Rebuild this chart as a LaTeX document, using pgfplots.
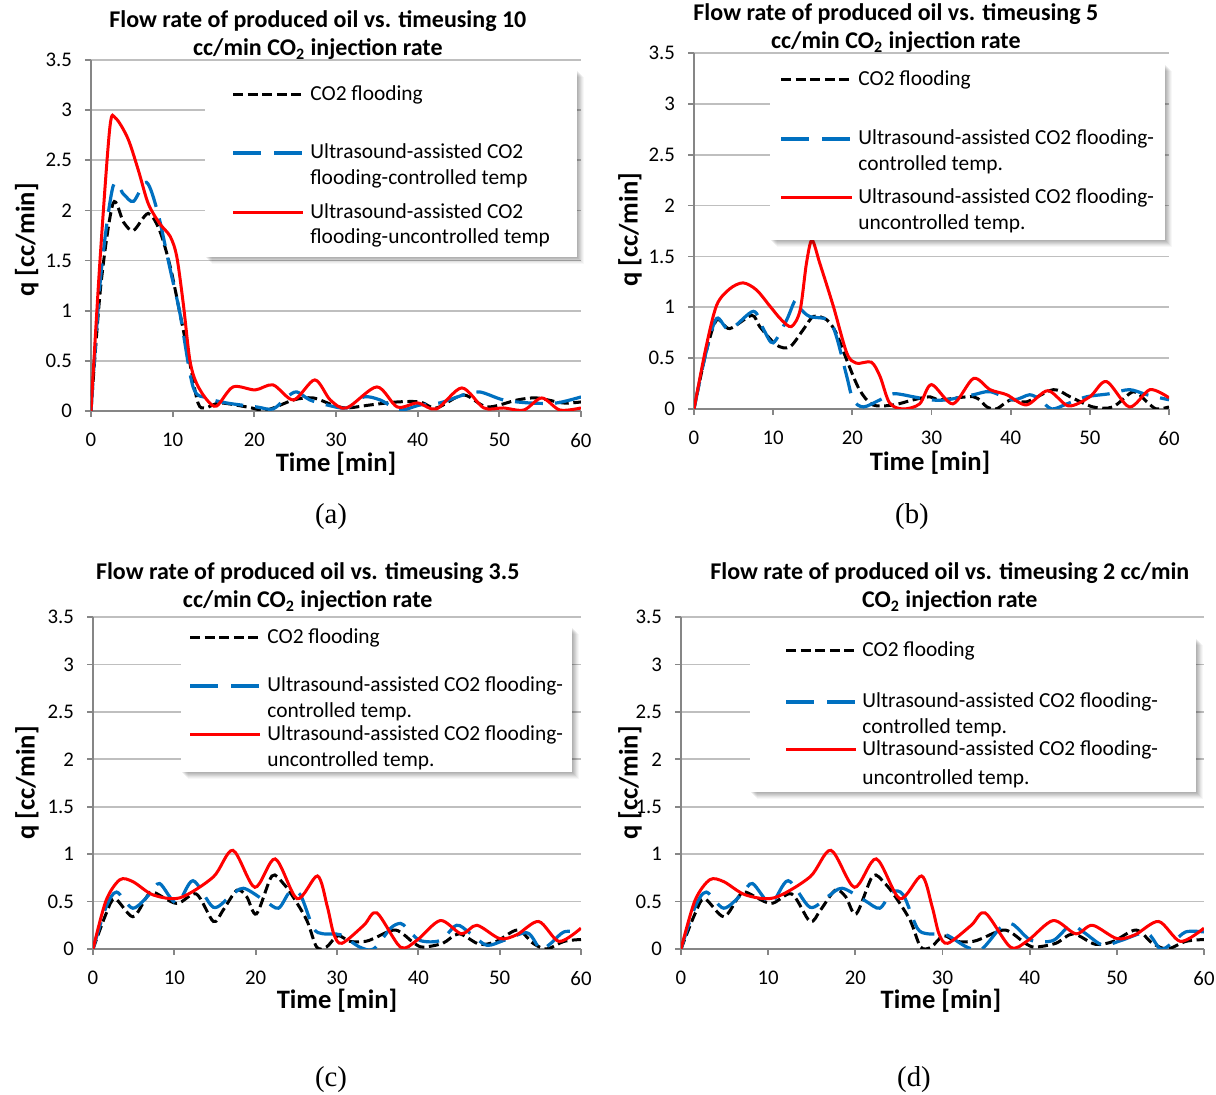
\documentclass[border=0pt]{standalone}
\usepackage{fontspec}
\setmainfont{Carlito}
\newfontfamily\timesfont{Liberation Serif}
\usepackage{pgfplots}
\usepackage{pgfplotstable}
\pgfplotsset{compat=1.18}
\definecolor{xlblue}{RGB}{0,112,192}
\definecolor{gridgray}{RGB}{191,191,191}
\definecolor{axgray}{RGB}{134,134,134}

% ---------- data (t [min], q [cc/min]) ----------
\pgfplotstableread{
t q
0 0
1.2 1.25
2.7 2.07
4.0 1.88
5.2 1.80
7.0 1.97
8.4 1.80
9.7 1.44
10.9 0.97
12.1 0.48
13.1 0.08
14.0 0.03
15.8 0.08
19.1 0.04
21.5 0.01
24.8 0.11
27.2 0.13
29.6 0.06
31.3 0.03
34.2 0.06
37.5 0.09
40.3 0.09
42.3 0.03
45.6 0.16
48.5 0.04
52.2 0.11
54.6 0.13
57.8 0.08
60 0.09
}\Ablack
\pgfplotstableread{
t q
0 0
1.2 1.35
2.7 2.24
4.0 2.16
5.2 2.09
6.8 2.28
8.2 1.97
9.7 1.41
10.9 0.97
12.5 0.24
14.2 0.13
16.6 0.08
20.3 0.04
22.3 0.02
24.0 0.14
25.2 0.19
26.8 0.11
28.9 0.06
31.3 0.03
33.4 0.14
35.4 0.11
37.8 0.01
40.3 0.06
42.7 0.08
45.6 0.16
47.6 0.19
50.5 0.11
53.7 0.08
57.0 0.08
60 0.14
}\Ablue
\pgfplotstableread{
t q
0 0
1.1 1.5
2.3 2.82
3.0 2.92
4.5 2.72
5.8 2.40
7.0 2.07
8.4 1.87
9.7 1.74
10.5 1.54
11.3 1.07
12.1 0.51
12.9 0.28
14.2 0.11
15.4 0.05
17.4 0.24
20.1 0.21
22.3 0.26
24.8 0.11
27.4 0.31
29.3 0.11
31.3 0.03
35.0 0.24
37.5 0.04
40.0 0.08
42.3 0.02
45.4 0.23
48.1 0.03
50.5 0.03
53.0 0.01
55.2 0.13
57.4 0.01
60 0.03
}\Ared
\pgfplotstableread{
t q
0 0
1.5 0.55
2.86 0.875
4.5 0.79
7.3 0.92
8.3 0.81
10.4 0.63
12.1 0.61
13.8 0.78
15.1 0.91
16.8 0.875
18.0 0.74
19.3 0.48
20.9 0.19
22.6 0.04
25.2 0.04
27.7 0.09
29.8 0.12
31.1 0.09
35.3 0.12
37.0 0.02
38.2 0.0
40 0.09
42 0.07
45.4 0.19
47.5 0.12
50.4 0.02
52.9 0.02
55.5 0.17
57.2 0.07
58.4 0.0
60 0.02
}\Bblack
\pgfplotstableread{
t q
0 0
1.5 0.55
2.86 0.89
4.5 0.78
7.5 0.96
8.8 0.78
10.0 0.65
11.7 0.875
12.8 1.07
13.4 0.99
14.6 0.91
17.0 0.875
18.0 0.71
19.3 0.32
20.1 0.09
21.4 0.02
23.5 0.09
25.2 0.15
27.7 0.12
29.8 0.09
31.9 0.09
35.3 0.14
37.4 0.17
40.3 0.09
42.4 0.14
43.7 0.09
45.2 0.0
47.1 0.05
49.6 0.12
52.5 0.15
55.0 0.19
57.2 0.14
60 0.09
}\Bblue
\pgfplotstableread{
t q
0 0
1.5 0.6
2.86 1.02
4.5 1.18
6.2 1.24
7.9 1.17
9.6 1.01
11.0 0.88
12.3 0.81
13.4 0.97
14.2 1.43
14.9 1.66
15.9 1.43
17.6 1.01
19.3 0.55
20.5 0.45
22.4 0.46
23.5 0.32
24.7 0.06
26.4 0.0
28.5 0.05
30.0 0.24
32.7 0.05
35.3 0.30
37.4 0.19
39.5 0.14
42.0 0.04
44.7 0.18
47.3 0.03
50.0 0.12
52.1 0.27
55.0 0.02
57.6 0.19
60 0.11
}\Bred
\pgfplotstableread{
t q
0 0
1.6 0.37
2.7 0.53
4.9 0.34
6.6 0.55
7.4 0.60
10.3 0.48
12.7 0.58
14.8 0.29
16.0 0.41
17.7 0.62
18.9 0.55
20.1 0.37
22.0 0.77
23.4 0.69
24.6 0.55
26.3 0.30
27.5 0.02
28.7 0.02
30.1 0.14
31.6 0.08
33.5 0.08
34.5 0.11
37.2 0.20
39.5 0.06
40.6 0.02
43.0 0.06
45.0 0.16
47.5 0.05
49.6 0.08
52.2 0.20
54.1 0.06
55.8 0.0
57.9 0.08
60 0.10
}\Cblack
\pgfplotstableread{
t q
0 0
1.6 0.44
2.9 0.60
4.9 0.43
7.0 0.58
8.2 0.69
10.3 0.48
12.3 0.72
14.8 0.44
16.8 0.55
18.5 0.64
21.1 0.51
22.8 0.43
24.2 0.60
25.5 0.57
27.1 0.22
28.3 0.16
30.4 0.15
32.8 0.02
34.5 0.0
36.6 0.22
37.8 0.27
38.6 0.22
40.2 0.09
42.7 0.09
44.7 0.25
46.3 0.17
48.4 0.04
50.5 0.09
53.4 0.17
55.0 0.0
56.3 0.06
57.9 0.18
60 0.18
}\Cblue
\pgfplotstableread{
t q
0 0
1.6 0.51
3.3 0.73
4.9 0.71
7.4 0.57
10.7 0.54
14.8 0.76
17.2 1.04
19.9 0.65
22.4 0.95
25.1 0.53
27.6 0.77
28.8 0.45
29.6 0.16
30.6 0.06
33.3 0.25
34.9 0.38
37.8 0.02
39.8 0.09
42.7 0.30
45.3 0.16
47.2 0.25
50.0 0.11
52.1 0.15
54.8 0.29
57.3 0.08
60 0.22
}\Cred

\pgfplotsset{
 panel/.style={
  scale only axis, anchor=south west,
  xmin=0, xmax=60, ymin=0, ymax=3.5,
  xtick={0,10,...,60}, ytick={0,0.5,...,3.5},
  axis x line*=bottom, axis y line*=left,
  axis line style={draw=axgray, line width=0.9pt, -},
  ymajorgrids, major grid style={draw=gridgray, line width=0.9pt},
  tick align=outside, major tick length=3pt,
  every tick/.style={draw=axgray, line width=0.9pt},
  /pgf/number format/assume math mode=true,
  ticklabel style={font=\fontsize{10.4}{12}\selectfont, text=black},
  xticklabel style={yshift=-4.5pt},
  yticklabel style={xshift=-3pt},
  title style={font=\bfseries\fontsize{12}{14}\selectfont, align=center, anchor=center, inner sep=0pt},
  xlabel style={font=\bfseries\fontsize{13.3}{15}\selectfont, anchor=center},
  ylabel style={font=\bfseries\fontsize{13.3}{15}\selectfont, anchor=center, rotate=0},
  xlabel={Time [min]}, ylabel={q [cc/min]},
 },
 blk/.style={black, line width=1.5pt, dash pattern=on 5pt off 2.3pt, smooth, tension=0.5, no marks},
 blu/.style={xlblue, line width=1.6pt, dash pattern=on 14pt off 6pt, smooth, tension=0.5, no marks},
 rd/.style={red, line width=1.5pt, smooth, tension=0.5, no marks},
}

\begin{document}
\begin{tikzpicture}
\path (0,0) rectangle (608pt,547.5pt);

% (a)
\begin{axis}[panel, at={(45.5pt,342pt)}, width=245pt, height=175.5pt,
  title={Flow rate of produced oil vs. timeusing 10\\cc/min CO\textsubscript{2} injection rate},
  title style={at={(axis description cs:0.463,1.037)}},
  xlabel style={at={(axis description cs:0.5,-0.149)}},
  ylabel style={at={(axis description cs:-0.131,0.487)}}]
\addplot[blk] table[x=t,y=q] {\Ablack};
\addplot[blu] table[x=t,y=q] {\Ablue};
\addplot[rd] table[x=t,y=q] {\Ared};
\end{axis}

% (b)
\begin{axis}[panel, at={(347pt,343pt)}, width=237.5pt, height=178pt,
  title={Flow rate of produced oil vs. timeusing 5\\cc/min CO\textsubscript{2} injection rate},
  title style={at={(axis description cs:0.425,1.036)}},
  xlabel style={at={(axis description cs:0.497,-0.151)}},
  ylabel style={at={(axis description cs:-0.135,0.503)}}]
\addplot[blk] table[x=t,y=q] {\Bblack};
\addplot[blu] table[x=t,y=q] {\Bblue};
\addplot[rd] table[x=t,y=q] {\Bred};
\end{axis}

% (c)
\begin{axis}[panel, at={(46.5pt,73pt)}, width=244pt, height=166pt,
  title={Flow rate of produced oil vs. timeusing 3.5\\cc/min CO\textsubscript{2} injection rate},
  title style={at={(axis description cs:0.44,1.054)}},
  xlabel style={at={(axis description cs:0.5,-0.156)}},
  ylabel style={at={(axis description cs:-0.135,0.5)}}]
\addplot[blk] table[x=t,y=q] {\Cblack};
\addplot[blu] table[x=t,y=q] {\Cblue};
\addplot[rd] table[x=t,y=q] {\Cred};
\end{axis}

% (d)
\begin{axis}[panel, at={(340.5pt,73pt)}, width=261.5pt, height=166pt,
  title={Flow rate of produced oil vs. timeusing 2 cc/min\\CO\textsubscript{2} injection rate},
  title style={at={(axis description cs:0.514,1.054)}},
  xlabel style={at={(axis description cs:0.497,-0.156)}},
  ylabel style={at={(axis description cs:-0.0975,0.5)}}]
\addplot[blk] table[x=t,y=q] {\Cblack};
\addplot[blu] table[x=t,y=q] {\Cblue};
\addplot[rd] table[x=t,y=q] {\Cred};
\end{axis}

% legends and captions, in pixel units of the reference
\begin{scope}[x=0.5pt, y=-0.5pt, yshift=547.5pt,
  lt/.style={anchor=base west, inner sep=0pt, font=\fontsize{10.7}{12}\selectfont},
  sblk/.style={black, line width=1.5pt, dash pattern=on 5pt off 2.3pt},
  sblu/.style={xlblue, line width=1.6pt, dash pattern=on 14pt off 6.5pt},
  srd/.style={red, line width=1.5pt}]
 \foreach \xa/\ya/\xb/\yb in {205/70/577/257, 770/64/1165/240, 181/627/572/772, 750/638/1196/792}{
   \foreach \d/\o in {1/0.06, 2/0.06, 3/0.06, 4/0.06, 5/0.05, 6/0.04, 7/0.03}{
     \fill[black, opacity=\o] (\xa+\d,\ya+\d) rectangle (\xb+\d,\yb+\d);
   }
   \fill[white] (\xa,\ya) rectangle (\xb,\yb);
 }
 % (a)
 \draw[sblk] (233,95) -- (303,95);
 \node[lt] at (310,101) {CO2 flooding};
 \draw[sblu] (233,153) -- (303,153);
 \node[lt] at (310,159) {Ultrasound-assisted CO2};
 \node[lt] at (310,185) {flooding-controlled temp};
 \draw[srd] (233,213) -- (303,213);
 \node[lt] at (310,219) {Ultrasound-assisted CO2};
 \node[lt] at (310,244) {flooding-uncontrolled temp};
 % (b)
 \draw[sblk] (781,80) -- (852,80);
 \node[lt] at (858,86) {CO2 flooding};
 \draw[sblu] (781,139) -- (852,139);
 \node[lt] at (858,145) {Ultrasound-assisted CO2 flooding-};
 \node[lt] at (858,171) {controlled temp.};
 \draw[srd] (781,198) -- (852,198);
 \node[lt] at (858,204) {Ultrasound-assisted CO2 flooding-};
 \node[lt] at (858,230) {uncontrolled temp.};
 % (c)
 \draw[sblk] (190,638) -- (260,638);
 \node[lt] at (267,644) {CO2 flooding};
 \draw[sblu] (190,686) -- (260,686);
 \node[lt] at (267,692) {Ultrasound-assisted CO2 flooding-};
 \node[lt] at (267,718) {controlled temp.};
 \draw[srd] (190,735) -- (260,735);
 \node[lt] at (267,741) {Ultrasound-assisted CO2 flooding-};
 \node[lt] at (267,767) {uncontrolled temp.};
 % (d)
 \draw[sblk] (786,651) -- (856,651);
 \node[lt] at (862,657) {CO2 flooding};
 \draw[sblu] (786,702) -- (856,702);
 \node[lt] at (862,708) {Ultrasound-assisted CO2 flooding-};
 \node[lt] at (862,734) {controlled temp.};
 \draw[srd] (786,750) -- (856,750);
 \node[lt] at (862,756) {Ultrasound-assisted CO2 flooding-};
 \node[lt] at (862,785) {uncontrolled temp.};
 % captions
 \node[font=\timesfont\fontsize{14.4}{16}\selectfont] at (331,517) {(a)};
 \node[font=\timesfont\fontsize{14.4}{16}\selectfont] at (912,517) {(b)};
 \node[font=\timesfont\fontsize{14.4}{16}\selectfont] at (331,1080) {(c)};
 \node[font=\timesfont\fontsize{14.4}{16}\selectfont] at (914,1080) {(d)};
\end{scope}
\pgfresetboundingbox
\useasboundingbox (0,0) rectangle (608pt,547.5pt);
\end{tikzpicture}
\end{document}
